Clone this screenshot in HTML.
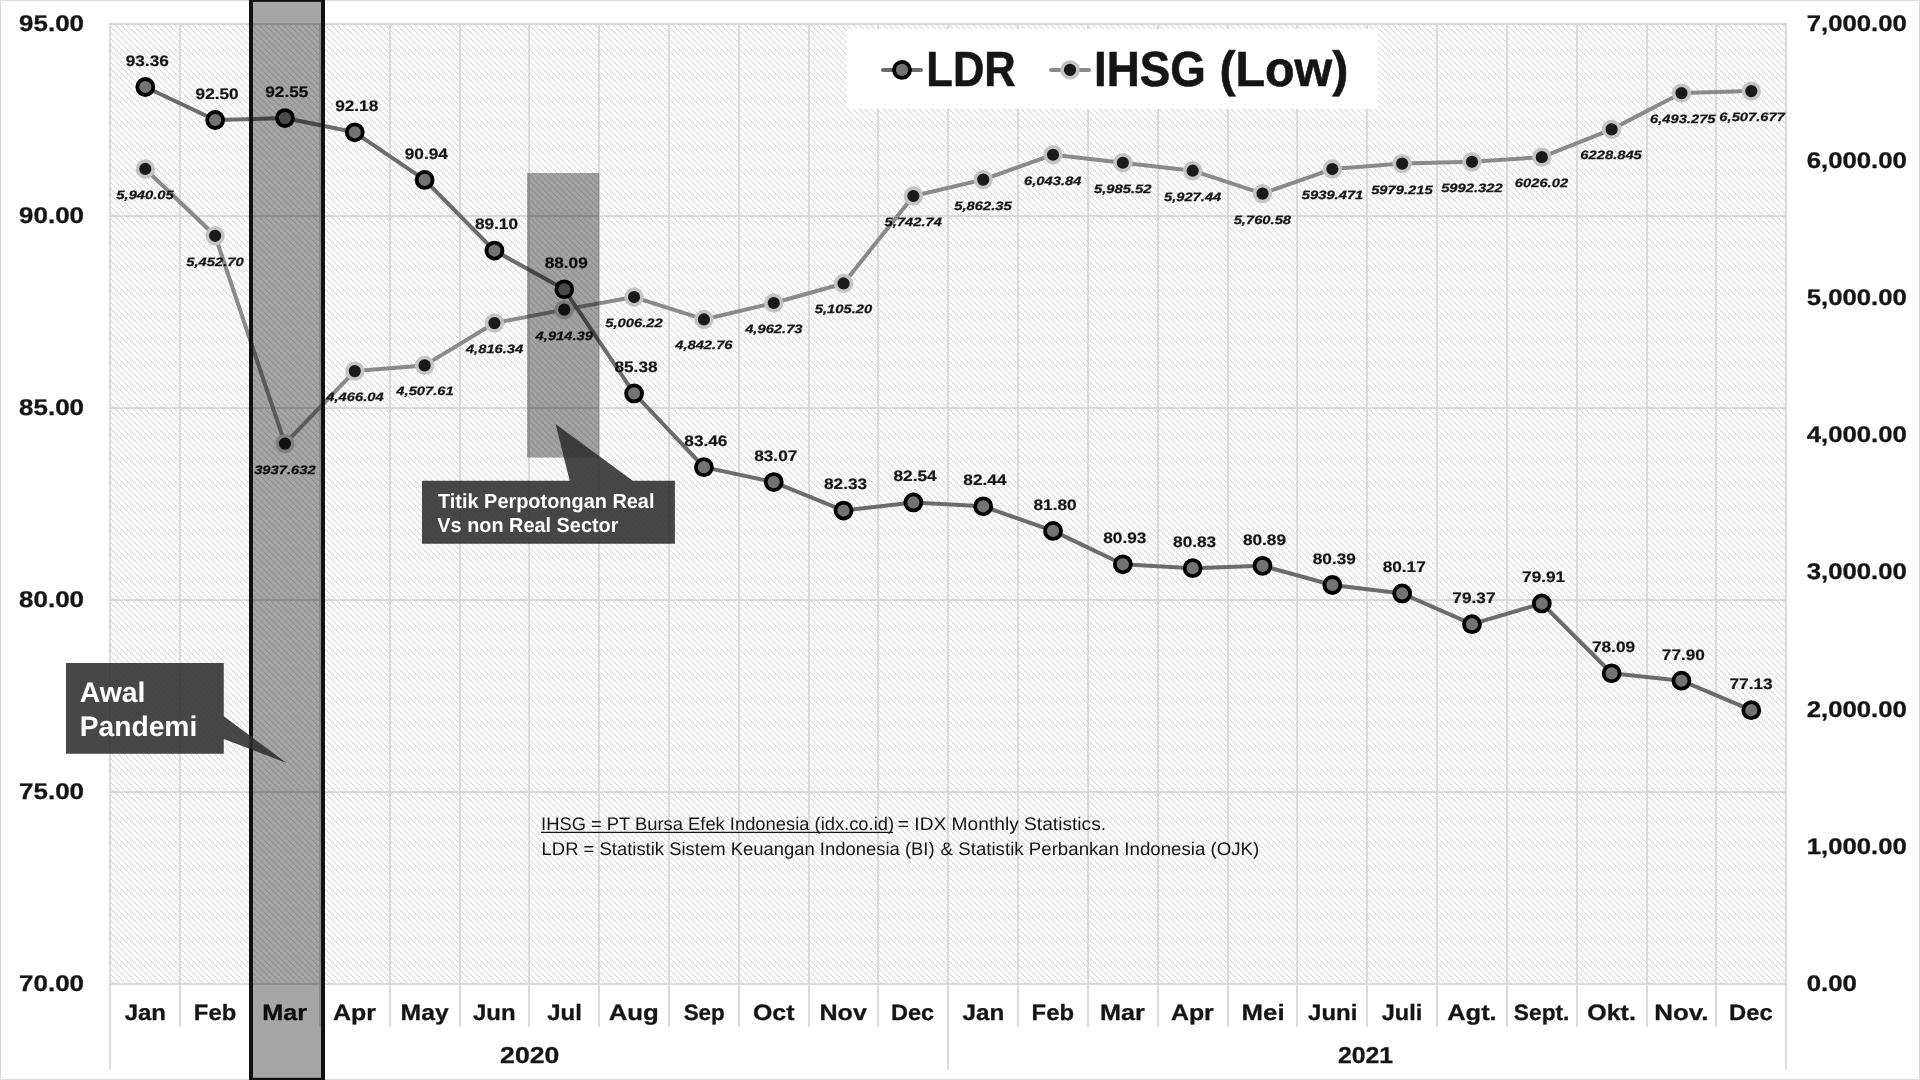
<!DOCTYPE html>
<html lang="en">
<head>
<meta charset="utf-8">
<title>LDR vs IHSG (Low) 2020-2021</title>
<style>
html,body{margin:0;padding:0;background:#fff;}
body{width:1920px;height:1080px;overflow:hidden;font-family:"Liberation Sans",sans-serif;}
svg{display:block;}
#wrap{width:1920px;height:1080px;will-change:transform;}
</style>
</head>
<body>
<div id="wrap">
<svg width="1920" height="1080" viewBox="0 0 1920 1080" font-family="'Liberation Sans', sans-serif" text-rendering="geometricPrecision">
<defs>
<pattern id="h" width="6" height="6" patternUnits="userSpaceOnUse" x="1.00" y="1.00">
<rect width="6" height="6" fill="#fff"/>
<path d="M0,0h1.5v1.5h-1.5z M1.5,1.5h1.5v1.5h-1.5z M3,3h1.5v1.5h-1.5z M4.5,4.5h1.5v1.5h-1.5z" fill="#d9d9d9"/>
</pattern>
</defs>
<rect x="0" y="0" width="1920" height="1080" fill="#fff"/>
<rect x="110.40" y="24.00" width="1675.80" height="960.00" fill="url(#h)"/>
<g fill="#d9d9d9">
<rect x="109.05" y="23.05" width="1677.90" height="1.90"/>
<rect x="109.05" y="215.05" width="1677.90" height="1.90"/>
<rect x="109.05" y="407.05" width="1677.90" height="1.90"/>
<rect x="109.05" y="599.05" width="1677.90" height="1.90"/>
<rect x="109.05" y="791.05" width="1677.90" height="1.90"/>
<rect x="109.05" y="983.05" width="1677.90" height="1.90"/>
<rect x="109.05" y="24.00" width="1.90" height="1045.50"/>
<rect x="179.05" y="24.00" width="1.90" height="1002.70"/>
<rect x="249.05" y="24.00" width="1.90" height="1002.70"/>
<rect x="319.05" y="24.00" width="1.90" height="1002.70"/>
<rect x="389.05" y="24.00" width="1.90" height="1002.70"/>
<rect x="459.05" y="24.00" width="1.90" height="1002.70"/>
<rect x="528.05" y="24.00" width="1.90" height="1002.70"/>
<rect x="598.05" y="24.00" width="1.90" height="1002.70"/>
<rect x="668.05" y="24.00" width="1.90" height="1002.70"/>
<rect x="738.05" y="24.00" width="1.90" height="1002.70"/>
<rect x="808.05" y="24.00" width="1.90" height="1002.70"/>
<rect x="877.05" y="24.00" width="1.90" height="1002.70"/>
<rect x="947.05" y="24.00" width="1.90" height="1045.50"/>
<rect x="1017.05" y="24.00" width="1.90" height="1002.70"/>
<rect x="1087.05" y="24.00" width="1.90" height="1002.70"/>
<rect x="1157.05" y="24.00" width="1.90" height="1002.70"/>
<rect x="1227.05" y="24.00" width="1.90" height="1002.70"/>
<rect x="1296.05" y="24.00" width="1.90" height="1002.70"/>
<rect x="1366.05" y="24.00" width="1.90" height="1002.70"/>
<rect x="1436.05" y="24.00" width="1.90" height="1002.70"/>
<rect x="1506.05" y="24.00" width="1.90" height="1002.70"/>
<rect x="1576.05" y="24.00" width="1.90" height="1002.70"/>
<rect x="1646.05" y="24.00" width="1.90" height="1002.70"/>
<rect x="1715.05" y="24.00" width="1.90" height="1002.70"/>
<rect x="1785.05" y="24.00" width="1.90" height="1045.50"/>
</g>
<text x="19.14" y="30.85" font-size="22.70" font-weight="bold" font-style="normal" fill="#151515" textLength="64.84" lengthAdjust="spacingAndGlyphs" stroke="#151515" stroke-width="0.30" stroke-linejoin="round">95.00</text>
<text x="19.14" y="222.85" font-size="22.70" font-weight="bold" font-style="normal" fill="#151515" textLength="64.84" lengthAdjust="spacingAndGlyphs" stroke="#151515" stroke-width="0.30" stroke-linejoin="round">90.00</text>
<text x="19.14" y="414.85" font-size="22.70" font-weight="bold" font-style="normal" fill="#151515" textLength="64.84" lengthAdjust="spacingAndGlyphs" stroke="#151515" stroke-width="0.30" stroke-linejoin="round">85.00</text>
<text x="19.14" y="606.85" font-size="22.70" font-weight="bold" font-style="normal" fill="#151515" textLength="64.84" lengthAdjust="spacingAndGlyphs" stroke="#151515" stroke-width="0.30" stroke-linejoin="round">80.00</text>
<text x="19.14" y="798.85" font-size="22.70" font-weight="bold" font-style="normal" fill="#151515" textLength="64.84" lengthAdjust="spacingAndGlyphs" stroke="#151515" stroke-width="0.30" stroke-linejoin="round">75.00</text>
<text x="19.14" y="990.85" font-size="22.70" font-weight="bold" font-style="normal" fill="#151515" textLength="64.84" lengthAdjust="spacingAndGlyphs" stroke="#151515" stroke-width="0.30" stroke-linejoin="round">70.00</text>
<text x="1806.66" y="30.85" font-size="22.70" font-weight="bold" font-style="normal" fill="#151515" textLength="100.23" lengthAdjust="spacingAndGlyphs" stroke="#151515" stroke-width="0.30" stroke-linejoin="round">7,000.00</text>
<text x="1806.66" y="167.99" font-size="22.70" font-weight="bold" font-style="normal" fill="#151515" textLength="100.23" lengthAdjust="spacingAndGlyphs" stroke="#151515" stroke-width="0.30" stroke-linejoin="round">6,000.00</text>
<text x="1806.66" y="305.14" font-size="22.70" font-weight="bold" font-style="normal" fill="#151515" textLength="100.23" lengthAdjust="spacingAndGlyphs" stroke="#151515" stroke-width="0.30" stroke-linejoin="round">5,000.00</text>
<text x="1806.66" y="442.28" font-size="22.70" font-weight="bold" font-style="normal" fill="#151515" textLength="100.23" lengthAdjust="spacingAndGlyphs" stroke="#151515" stroke-width="0.30" stroke-linejoin="round">4,000.00</text>
<text x="1806.66" y="579.42" font-size="22.70" font-weight="bold" font-style="normal" fill="#151515" textLength="100.23" lengthAdjust="spacingAndGlyphs" stroke="#151515" stroke-width="0.30" stroke-linejoin="round">3,000.00</text>
<text x="1806.66" y="716.56" font-size="22.70" font-weight="bold" font-style="normal" fill="#151515" textLength="100.23" lengthAdjust="spacingAndGlyphs" stroke="#151515" stroke-width="0.30" stroke-linejoin="round">2,000.00</text>
<text x="1806.66" y="853.71" font-size="22.70" font-weight="bold" font-style="normal" fill="#151515" textLength="100.23" lengthAdjust="spacingAndGlyphs" stroke="#151515" stroke-width="0.30" stroke-linejoin="round">1,000.00</text>
<text x="1806.72" y="990.85" font-size="22.70" font-weight="bold" font-style="normal" fill="#151515" textLength="50.20" lengthAdjust="spacingAndGlyphs" stroke="#151515" stroke-width="0.30" stroke-linejoin="round">0.00</text>
<text x="124.69" y="1019.60" font-size="22.20" font-weight="bold" font-style="normal" fill="#151515" textLength="41.32" lengthAdjust="spacingAndGlyphs" stroke="#151515" stroke-width="0.30" stroke-linejoin="round">Jan</text>
<text x="193.84" y="1019.60" font-size="22.20" font-weight="bold" font-style="normal" fill="#151515" textLength="42.37" lengthAdjust="spacingAndGlyphs" stroke="#151515" stroke-width="0.30" stroke-linejoin="round">Feb</text>
<text x="262.25" y="1019.60" font-size="22.20" font-weight="bold" font-style="normal" fill="#151515" textLength="44.84" lengthAdjust="spacingAndGlyphs" stroke="#151515" stroke-width="0.30" stroke-linejoin="round">Mar</text>
<text x="333.13" y="1019.60" font-size="22.20" font-weight="bold" font-style="normal" fill="#151515" textLength="42.89" lengthAdjust="spacingAndGlyphs" stroke="#151515" stroke-width="0.30" stroke-linejoin="round">Apr</text>
<text x="400.58" y="1019.60" font-size="22.20" font-weight="bold" font-style="normal" fill="#151515" textLength="48.10" lengthAdjust="spacingAndGlyphs" stroke="#151515" stroke-width="0.30" stroke-linejoin="round">May</text>
<text x="472.99" y="1019.60" font-size="22.20" font-weight="bold" font-style="normal" fill="#151515" textLength="42.61" lengthAdjust="spacingAndGlyphs" stroke="#151515" stroke-width="0.30" stroke-linejoin="round">Jun</text>
<text x="547.29" y="1019.60" font-size="22.20" font-weight="bold" font-style="normal" fill="#151515" textLength="34.53" lengthAdjust="spacingAndGlyphs" stroke="#151515" stroke-width="0.30" stroke-linejoin="round">Jul</text>
<text x="608.70" y="1019.60" font-size="22.20" font-weight="bold" font-style="normal" fill="#151515" textLength="50.16" lengthAdjust="spacingAndGlyphs" stroke="#151515" stroke-width="0.30" stroke-linejoin="round">Aug</text>
<text x="683.68" y="1019.60" font-size="22.20" font-weight="bold" font-style="normal" fill="#151515" textLength="41.10" lengthAdjust="spacingAndGlyphs" stroke="#151515" stroke-width="0.30" stroke-linejoin="round">Sep</text>
<text x="752.95" y="1019.60" font-size="22.20" font-weight="bold" font-style="normal" fill="#151515" textLength="41.50" lengthAdjust="spacingAndGlyphs" stroke="#151515" stroke-width="0.30" stroke-linejoin="round">Oct</text>
<text x="819.46" y="1019.60" font-size="22.20" font-weight="bold" font-style="normal" fill="#151515" textLength="47.40" lengthAdjust="spacingAndGlyphs" stroke="#151515" stroke-width="0.30" stroke-linejoin="round">Nov</text>
<text x="891.06" y="1019.60" font-size="22.20" font-weight="bold" font-style="normal" fill="#151515" textLength="43.08" lengthAdjust="spacingAndGlyphs" stroke="#151515" stroke-width="0.30" stroke-linejoin="round">Dec</text>
<text x="962.49" y="1019.60" font-size="22.20" font-weight="bold" font-style="normal" fill="#151515" textLength="41.73" lengthAdjust="spacingAndGlyphs" stroke="#151515" stroke-width="0.30" stroke-linejoin="round">Jan</text>
<text x="1031.64" y="1019.60" font-size="22.20" font-weight="bold" font-style="normal" fill="#151515" textLength="42.37" lengthAdjust="spacingAndGlyphs" stroke="#151515" stroke-width="0.30" stroke-linejoin="round">Feb</text>
<text x="1100.05" y="1019.60" font-size="22.20" font-weight="bold" font-style="normal" fill="#151515" textLength="44.84" lengthAdjust="spacingAndGlyphs" stroke="#151515" stroke-width="0.30" stroke-linejoin="round">Mar</text>
<text x="1170.93" y="1019.60" font-size="22.20" font-weight="bold" font-style="normal" fill="#151515" textLength="42.89" lengthAdjust="spacingAndGlyphs" stroke="#151515" stroke-width="0.30" stroke-linejoin="round">Apr</text>
<text x="1241.61" y="1019.60" font-size="22.20" font-weight="bold" font-style="normal" fill="#151515" textLength="43.04" lengthAdjust="spacingAndGlyphs" stroke="#151515" stroke-width="0.30" stroke-linejoin="round">Mei</text>
<text x="1308.09" y="1019.60" font-size="22.20" font-weight="bold" font-style="normal" fill="#151515" textLength="49.25" lengthAdjust="spacingAndGlyphs" stroke="#151515" stroke-width="0.30" stroke-linejoin="round">Juni</text>
<text x="1381.80" y="1019.60" font-size="22.20" font-weight="bold" font-style="normal" fill="#151515" textLength="40.50" lengthAdjust="spacingAndGlyphs" stroke="#151515" stroke-width="0.30" stroke-linejoin="round">Juli</text>
<text x="1447.21" y="1019.60" font-size="22.20" font-weight="bold" font-style="normal" fill="#151515" textLength="49.49" lengthAdjust="spacingAndGlyphs" stroke="#151515" stroke-width="0.30" stroke-linejoin="round">Agt.</text>
<text x="1513.87" y="1019.60" font-size="22.20" font-weight="bold" font-style="normal" fill="#151515" textLength="55.51" lengthAdjust="spacingAndGlyphs" stroke="#151515" stroke-width="0.30" stroke-linejoin="round">Sept.</text>
<text x="1587.25" y="1019.60" font-size="22.20" font-weight="bold" font-style="normal" fill="#151515" textLength="48.58" lengthAdjust="spacingAndGlyphs" stroke="#151515" stroke-width="0.30" stroke-linejoin="round">Okt.</text>
<text x="1654.30" y="1019.60" font-size="22.20" font-weight="bold" font-style="normal" fill="#151515" textLength="54.21" lengthAdjust="spacingAndGlyphs" stroke="#151515" stroke-width="0.30" stroke-linejoin="round">Nov.</text>
<text x="1729.05" y="1019.60" font-size="22.20" font-weight="bold" font-style="normal" fill="#151515" textLength="43.61" lengthAdjust="spacingAndGlyphs" stroke="#151515" stroke-width="0.30" stroke-linejoin="round">Dec</text>
<text x="500.12" y="1063.00" font-size="23.00" font-weight="bold" font-style="normal" fill="#151515" textLength="59.10" lengthAdjust="spacingAndGlyphs" stroke="#151515" stroke-width="0.30" stroke-linejoin="round">2020</text>
<text x="1338.03" y="1063.00" font-size="23.00" font-weight="bold" font-style="normal" fill="#151515" textLength="55.15" lengthAdjust="spacingAndGlyphs" stroke="#151515" stroke-width="0.30" stroke-linejoin="round">2021</text>
<rect x="847.00" y="29.00" width="531.00" height="80.00" fill="#fff"/>
<line x1="883" y1="69.90" x2="921" y2="69.90" stroke="#6b6b6b" stroke-width="4" stroke-linecap="round"/>
<circle cx="902" cy="69.90" r="8.00" fill="#737373" stroke="#000" stroke-width="3.80"/>
<line x1="1051" y1="69.90" x2="1089" y2="69.90" stroke="#8a8a8a" stroke-width="4" stroke-linecap="round"/>
<circle cx="1070" cy="69.90" r="7.90" fill="#1a1a1a" stroke="#c4c4c4" stroke-width="3.60"/>
<text x="926.37" y="85.50" font-size="49.50" font-weight="bold" font-style="normal" fill="#151515" textLength="89.32" lengthAdjust="spacingAndGlyphs" stroke="#151515" stroke-width="0.60" stroke-linejoin="round">LDR</text>
<text x="1093.96" y="85.50" font-size="49.50" font-weight="bold" font-style="normal" fill="#151515" textLength="111.79" lengthAdjust="spacingAndGlyphs" stroke="#151515" stroke-width="0.60" stroke-linejoin="round">IHSG</text>
<text x="1219.38" y="85.50" font-size="49.50" font-weight="bold" font-style="normal" fill="#151515" textLength="128.97" lengthAdjust="spacingAndGlyphs" stroke="#151515" stroke-width="0.60" stroke-linejoin="round">(Low)</text>
<text x="541.05" y="829.75" font-size="18.20" font-weight="normal" font-style="normal" fill="#151515" textLength="353.01" lengthAdjust="spacingAndGlyphs">IHSG = PT Bursa Efek Indonesia (idx.co.id)</text>
<text x="897.79" y="829.75" font-size="18.20" font-weight="normal" font-style="normal" fill="#151515" textLength="208.34" lengthAdjust="spacingAndGlyphs">= IDX Monthly Statistics.</text>
<line x1="541" y1="832.30" x2="893.1" y2="832.30" stroke="#151515" stroke-width="1.2"/>
<text x="541.58" y="854.75" font-size="18.20" font-weight="normal" font-style="normal" fill="#151515" textLength="393.07" lengthAdjust="spacingAndGlyphs">LDR = Statistik Sistem Keuangan Indonesia (BI)</text>
<text x="940.60" y="854.75" font-size="18.20" font-weight="normal" font-style="normal" fill="#151515" textLength="318.66" lengthAdjust="spacingAndGlyphs">&amp; Statistik Perbankan Indonesia (OJK)</text>
<polyline points="145.31,168.96 215.14,235.80 284.96,443.58 354.79,371.11 424.61,365.41 494.44,323.07 564.26,309.63 634.09,297.03 703.91,319.45 773.74,303.00 843.56,283.46 913.39,196.02 983.21,179.62 1053.04,154.73 1122.86,162.73 1192.69,170.69 1262.51,193.58 1332.34,169.04 1402.16,163.59 1471.99,161.80 1541.81,157.17 1611.64,129.36 1681.46,93.09 1751.29,91.12" fill="none" stroke="#8a8a8a" stroke-width="4.00" stroke-linejoin="round" stroke-linecap="round"/>
<circle cx="145.31" cy="168.96" r="7.90" fill="#1a1a1a" stroke="#c4c4c4" stroke-width="3.60"/>
<circle cx="215.14" cy="235.80" r="7.90" fill="#1a1a1a" stroke="#c4c4c4" stroke-width="3.60"/>
<circle cx="284.96" cy="443.58" r="7.90" fill="#1a1a1a" stroke="#c4c4c4" stroke-width="3.60"/>
<circle cx="354.79" cy="371.11" r="7.90" fill="#1a1a1a" stroke="#c4c4c4" stroke-width="3.60"/>
<circle cx="424.61" cy="365.41" r="7.90" fill="#1a1a1a" stroke="#c4c4c4" stroke-width="3.60"/>
<circle cx="494.44" cy="323.07" r="7.90" fill="#1a1a1a" stroke="#c4c4c4" stroke-width="3.60"/>
<circle cx="564.26" cy="309.63" r="7.90" fill="#1a1a1a" stroke="#c4c4c4" stroke-width="3.60"/>
<circle cx="634.09" cy="297.03" r="7.90" fill="#1a1a1a" stroke="#c4c4c4" stroke-width="3.60"/>
<circle cx="703.91" cy="319.45" r="7.90" fill="#1a1a1a" stroke="#c4c4c4" stroke-width="3.60"/>
<circle cx="773.74" cy="303.00" r="7.90" fill="#1a1a1a" stroke="#c4c4c4" stroke-width="3.60"/>
<circle cx="843.56" cy="283.46" r="7.90" fill="#1a1a1a" stroke="#c4c4c4" stroke-width="3.60"/>
<circle cx="913.39" cy="196.02" r="7.90" fill="#1a1a1a" stroke="#c4c4c4" stroke-width="3.60"/>
<circle cx="983.21" cy="179.62" r="7.90" fill="#1a1a1a" stroke="#c4c4c4" stroke-width="3.60"/>
<circle cx="1053.04" cy="154.73" r="7.90" fill="#1a1a1a" stroke="#c4c4c4" stroke-width="3.60"/>
<circle cx="1122.86" cy="162.73" r="7.90" fill="#1a1a1a" stroke="#c4c4c4" stroke-width="3.60"/>
<circle cx="1192.69" cy="170.69" r="7.90" fill="#1a1a1a" stroke="#c4c4c4" stroke-width="3.60"/>
<circle cx="1262.51" cy="193.58" r="7.90" fill="#1a1a1a" stroke="#c4c4c4" stroke-width="3.60"/>
<circle cx="1332.34" cy="169.04" r="7.90" fill="#1a1a1a" stroke="#c4c4c4" stroke-width="3.60"/>
<circle cx="1402.16" cy="163.59" r="7.90" fill="#1a1a1a" stroke="#c4c4c4" stroke-width="3.60"/>
<circle cx="1471.99" cy="161.80" r="7.90" fill="#1a1a1a" stroke="#c4c4c4" stroke-width="3.60"/>
<circle cx="1541.81" cy="157.17" r="7.90" fill="#1a1a1a" stroke="#c4c4c4" stroke-width="3.60"/>
<circle cx="1611.64" cy="129.36" r="7.90" fill="#1a1a1a" stroke="#c4c4c4" stroke-width="3.60"/>
<circle cx="1681.46" cy="93.09" r="7.90" fill="#1a1a1a" stroke="#c4c4c4" stroke-width="3.60"/>
<circle cx="1751.29" cy="91.12" r="7.90" fill="#1a1a1a" stroke="#c4c4c4" stroke-width="3.60"/>
<polyline points="145.31,86.98 215.14,120.00 284.96,118.08 354.79,132.29 424.61,179.90 494.44,250.56 564.26,289.34 634.09,393.41 703.91,467.14 773.74,482.11 843.56,510.53 913.39,502.46 983.21,506.30 1053.04,530.88 1122.86,564.29 1192.69,568.13 1262.51,565.82 1332.34,585.02 1402.16,593.47 1471.99,624.19 1541.81,603.46 1611.64,673.34 1681.46,680.64 1751.29,710.21" fill="none" stroke="#6b6b6b" stroke-width="4.00" stroke-linejoin="round" stroke-linecap="round"/>
<circle cx="145.31" cy="86.98" r="8.00" fill="#737373" stroke="#000" stroke-width="3.80"/>
<circle cx="215.14" cy="120.00" r="8.00" fill="#737373" stroke="#000" stroke-width="3.80"/>
<circle cx="284.96" cy="118.08" r="8.00" fill="#737373" stroke="#000" stroke-width="3.80"/>
<circle cx="354.79" cy="132.29" r="8.00" fill="#737373" stroke="#000" stroke-width="3.80"/>
<circle cx="424.61" cy="179.90" r="8.00" fill="#737373" stroke="#000" stroke-width="3.80"/>
<circle cx="494.44" cy="250.56" r="8.00" fill="#737373" stroke="#000" stroke-width="3.80"/>
<circle cx="564.26" cy="289.34" r="8.00" fill="#737373" stroke="#000" stroke-width="3.80"/>
<circle cx="634.09" cy="393.41" r="8.00" fill="#737373" stroke="#000" stroke-width="3.80"/>
<circle cx="703.91" cy="467.14" r="8.00" fill="#737373" stroke="#000" stroke-width="3.80"/>
<circle cx="773.74" cy="482.11" r="8.00" fill="#737373" stroke="#000" stroke-width="3.80"/>
<circle cx="843.56" cy="510.53" r="8.00" fill="#737373" stroke="#000" stroke-width="3.80"/>
<circle cx="913.39" cy="502.46" r="8.00" fill="#737373" stroke="#000" stroke-width="3.80"/>
<circle cx="983.21" cy="506.30" r="8.00" fill="#737373" stroke="#000" stroke-width="3.80"/>
<circle cx="1053.04" cy="530.88" r="8.00" fill="#737373" stroke="#000" stroke-width="3.80"/>
<circle cx="1122.86" cy="564.29" r="8.00" fill="#737373" stroke="#000" stroke-width="3.80"/>
<circle cx="1192.69" cy="568.13" r="8.00" fill="#737373" stroke="#000" stroke-width="3.80"/>
<circle cx="1262.51" cy="565.82" r="8.00" fill="#737373" stroke="#000" stroke-width="3.80"/>
<circle cx="1332.34" cy="585.02" r="8.00" fill="#737373" stroke="#000" stroke-width="3.80"/>
<circle cx="1402.16" cy="593.47" r="8.00" fill="#737373" stroke="#000" stroke-width="3.80"/>
<circle cx="1471.99" cy="624.19" r="8.00" fill="#737373" stroke="#000" stroke-width="3.80"/>
<circle cx="1541.81" cy="603.46" r="8.00" fill="#737373" stroke="#000" stroke-width="3.80"/>
<circle cx="1611.64" cy="673.34" r="8.00" fill="#737373" stroke="#000" stroke-width="3.80"/>
<circle cx="1681.46" cy="680.64" r="8.00" fill="#737373" stroke="#000" stroke-width="3.80"/>
<circle cx="1751.29" cy="710.21" r="8.00" fill="#737373" stroke="#000" stroke-width="3.80"/>
<text x="116.37" y="198.96" font-size="12.10" font-weight="bold" font-style="italic" fill="#151515" textLength="57.37" lengthAdjust="spacingAndGlyphs" stroke="#151515" stroke-width="0.25" stroke-linejoin="round">5,940.05</text>
<text x="186.34" y="265.80" font-size="12.10" font-weight="bold" font-style="italic" fill="#151515" textLength="57.37" lengthAdjust="spacingAndGlyphs" stroke="#151515" stroke-width="0.25" stroke-linejoin="round">5,452.70</text>
<text x="254.15" y="473.58" font-size="12.10" font-weight="bold" font-style="italic" fill="#151515" textLength="61.47" lengthAdjust="spacingAndGlyphs" stroke="#151515" stroke-width="0.25" stroke-linejoin="round">3937.632</text>
<text x="326.25" y="401.11" font-size="12.10" font-weight="bold" font-style="italic" fill="#151515" textLength="57.37" lengthAdjust="spacingAndGlyphs" stroke="#151515" stroke-width="0.25" stroke-linejoin="round">4,466.04</text>
<text x="396.35" y="395.41" font-size="12.10" font-weight="bold" font-style="italic" fill="#151515" textLength="57.37" lengthAdjust="spacingAndGlyphs" stroke="#151515" stroke-width="0.25" stroke-linejoin="round">4,507.61</text>
<text x="465.90" y="353.07" font-size="12.10" font-weight="bold" font-style="italic" fill="#151515" textLength="57.37" lengthAdjust="spacingAndGlyphs" stroke="#151515" stroke-width="0.25" stroke-linejoin="round">4,816.34</text>
<text x="535.63" y="339.63" font-size="12.10" font-weight="bold" font-style="italic" fill="#151515" textLength="57.37" lengthAdjust="spacingAndGlyphs" stroke="#151515" stroke-width="0.25" stroke-linejoin="round">4,914.39</text>
<text x="605.31" y="327.03" font-size="12.10" font-weight="bold" font-style="italic" fill="#151515" textLength="57.37" lengthAdjust="spacingAndGlyphs" stroke="#151515" stroke-width="0.25" stroke-linejoin="round">5,006.22</text>
<text x="675.20" y="349.45" font-size="12.10" font-weight="bold" font-style="italic" fill="#151515" textLength="57.37" lengthAdjust="spacingAndGlyphs" stroke="#151515" stroke-width="0.25" stroke-linejoin="round">4,842.76</text>
<text x="745.16" y="333.00" font-size="12.10" font-weight="bold" font-style="italic" fill="#151515" textLength="57.37" lengthAdjust="spacingAndGlyphs" stroke="#151515" stroke-width="0.25" stroke-linejoin="round">4,962.73</text>
<text x="814.76" y="313.46" font-size="12.10" font-weight="bold" font-style="italic" fill="#151515" textLength="57.37" lengthAdjust="spacingAndGlyphs" stroke="#151515" stroke-width="0.25" stroke-linejoin="round">5,105.20</text>
<text x="884.64" y="226.02" font-size="12.10" font-weight="bold" font-style="italic" fill="#151515" textLength="57.37" lengthAdjust="spacingAndGlyphs" stroke="#151515" stroke-width="0.25" stroke-linejoin="round">5,742.74</text>
<text x="954.27" y="209.62" font-size="12.10" font-weight="bold" font-style="italic" fill="#151515" textLength="57.37" lengthAdjust="spacingAndGlyphs" stroke="#151515" stroke-width="0.25" stroke-linejoin="round">5,862.35</text>
<text x="1024.02" y="184.73" font-size="12.10" font-weight="bold" font-style="italic" fill="#151515" textLength="57.37" lengthAdjust="spacingAndGlyphs" stroke="#151515" stroke-width="0.25" stroke-linejoin="round">6,043.84</text>
<text x="1094.08" y="192.73" font-size="12.10" font-weight="bold" font-style="italic" fill="#151515" textLength="57.37" lengthAdjust="spacingAndGlyphs" stroke="#151515" stroke-width="0.25" stroke-linejoin="round">5,985.52</text>
<text x="1163.94" y="200.69" font-size="12.10" font-weight="bold" font-style="italic" fill="#151515" textLength="57.37" lengthAdjust="spacingAndGlyphs" stroke="#151515" stroke-width="0.25" stroke-linejoin="round">5,927.44</text>
<text x="1233.66" y="223.58" font-size="12.10" font-weight="bold" font-style="italic" fill="#151515" textLength="57.37" lengthAdjust="spacingAndGlyphs" stroke="#151515" stroke-width="0.25" stroke-linejoin="round">5,760.58</text>
<text x="1301.82" y="199.04" font-size="12.10" font-weight="bold" font-style="italic" fill="#151515" textLength="61.47" lengthAdjust="spacingAndGlyphs" stroke="#151515" stroke-width="0.25" stroke-linejoin="round">5939.471</text>
<text x="1371.17" y="193.59" font-size="12.10" font-weight="bold" font-style="italic" fill="#151515" textLength="61.47" lengthAdjust="spacingAndGlyphs" stroke="#151515" stroke-width="0.25" stroke-linejoin="round">5979.215</text>
<text x="1441.16" y="191.80" font-size="12.10" font-weight="bold" font-style="italic" fill="#151515" textLength="61.47" lengthAdjust="spacingAndGlyphs" stroke="#151515" stroke-width="0.25" stroke-linejoin="round">5992.322</text>
<text x="1514.82" y="187.17" font-size="12.10" font-weight="bold" font-style="italic" fill="#151515" textLength="53.27" lengthAdjust="spacingAndGlyphs" stroke="#151515" stroke-width="0.25" stroke-linejoin="round">6026.02</text>
<text x="1580.37" y="159.36" font-size="12.10" font-weight="bold" font-style="italic" fill="#151515" textLength="61.47" lengthAdjust="spacingAndGlyphs" stroke="#151515" stroke-width="0.25" stroke-linejoin="round">6228.845</text>
<text x="1650.00" y="123.09" font-size="12.10" font-weight="bold" font-style="italic" fill="#151515" textLength="65.56" lengthAdjust="spacingAndGlyphs" stroke="#151515" stroke-width="0.25" stroke-linejoin="round">6,493.275</text>
<text x="1719.37" y="121.12" font-size="12.10" font-weight="bold" font-style="italic" fill="#151515" textLength="65.56" lengthAdjust="spacingAndGlyphs" stroke="#151515" stroke-width="0.25" stroke-linejoin="round">6,507.677</text>
<text x="125.72" y="65.88" font-size="15.20" font-weight="bold" font-style="normal" fill="#151515" textLength="43.09" lengthAdjust="spacingAndGlyphs" stroke="#151515" stroke-width="0.20" stroke-linejoin="round">93.36</text>
<text x="195.58" y="98.90" font-size="15.20" font-weight="bold" font-style="normal" fill="#151515" textLength="43.09" lengthAdjust="spacingAndGlyphs" stroke="#151515" stroke-width="0.20" stroke-linejoin="round">92.50</text>
<text x="265.30" y="96.98" font-size="15.20" font-weight="bold" font-style="normal" fill="#151515" textLength="43.09" lengthAdjust="spacingAndGlyphs" stroke="#151515" stroke-width="0.20" stroke-linejoin="round">92.55</text>
<text x="335.15" y="111.19" font-size="15.20" font-weight="bold" font-style="normal" fill="#151515" textLength="43.09" lengthAdjust="spacingAndGlyphs" stroke="#151515" stroke-width="0.20" stroke-linejoin="round">92.18</text>
<text x="404.76" y="158.80" font-size="15.20" font-weight="bold" font-style="normal" fill="#151515" textLength="43.09" lengthAdjust="spacingAndGlyphs" stroke="#151515" stroke-width="0.20" stroke-linejoin="round">90.94</text>
<text x="474.91" y="229.46" font-size="15.20" font-weight="bold" font-style="normal" fill="#151515" textLength="43.09" lengthAdjust="spacingAndGlyphs" stroke="#151515" stroke-width="0.20" stroke-linejoin="round">89.10</text>
<text x="544.69" y="268.24" font-size="15.20" font-weight="bold" font-style="normal" fill="#151515" textLength="43.09" lengthAdjust="spacingAndGlyphs" stroke="#151515" stroke-width="0.20" stroke-linejoin="round">88.09</text>
<text x="614.47" y="372.31" font-size="15.20" font-weight="bold" font-style="normal" fill="#151515" textLength="43.09" lengthAdjust="spacingAndGlyphs" stroke="#151515" stroke-width="0.20" stroke-linejoin="round">85.38</text>
<text x="684.34" y="446.04" font-size="15.20" font-weight="bold" font-style="normal" fill="#151515" textLength="43.09" lengthAdjust="spacingAndGlyphs" stroke="#151515" stroke-width="0.20" stroke-linejoin="round">83.46</text>
<text x="754.23" y="461.01" font-size="15.20" font-weight="bold" font-style="normal" fill="#151515" textLength="43.09" lengthAdjust="spacingAndGlyphs" stroke="#151515" stroke-width="0.20" stroke-linejoin="round">83.07</text>
<text x="823.99" y="489.43" font-size="15.20" font-weight="bold" font-style="normal" fill="#151515" textLength="43.09" lengthAdjust="spacingAndGlyphs" stroke="#151515" stroke-width="0.20" stroke-linejoin="round">82.33</text>
<text x="893.56" y="481.36" font-size="15.20" font-weight="bold" font-style="normal" fill="#151515" textLength="43.09" lengthAdjust="spacingAndGlyphs" stroke="#151515" stroke-width="0.20" stroke-linejoin="round">82.54</text>
<text x="963.38" y="485.20" font-size="15.20" font-weight="bold" font-style="normal" fill="#151515" textLength="43.09" lengthAdjust="spacingAndGlyphs" stroke="#151515" stroke-width="0.20" stroke-linejoin="round">82.44</text>
<text x="1033.51" y="509.78" font-size="15.20" font-weight="bold" font-style="normal" fill="#151515" textLength="43.09" lengthAdjust="spacingAndGlyphs" stroke="#151515" stroke-width="0.20" stroke-linejoin="round">81.80</text>
<text x="1103.29" y="543.19" font-size="15.20" font-weight="bold" font-style="normal" fill="#151515" textLength="43.09" lengthAdjust="spacingAndGlyphs" stroke="#151515" stroke-width="0.20" stroke-linejoin="round">80.93</text>
<text x="1173.11" y="547.03" font-size="15.20" font-weight="bold" font-style="normal" fill="#151515" textLength="43.09" lengthAdjust="spacingAndGlyphs" stroke="#151515" stroke-width="0.20" stroke-linejoin="round">80.83</text>
<text x="1242.94" y="544.72" font-size="15.20" font-weight="bold" font-style="normal" fill="#151515" textLength="43.09" lengthAdjust="spacingAndGlyphs" stroke="#151515" stroke-width="0.20" stroke-linejoin="round">80.89</text>
<text x="1312.76" y="563.92" font-size="15.20" font-weight="bold" font-style="normal" fill="#151515" textLength="43.09" lengthAdjust="spacingAndGlyphs" stroke="#151515" stroke-width="0.20" stroke-linejoin="round">80.39</text>
<text x="1382.65" y="572.37" font-size="15.20" font-weight="bold" font-style="normal" fill="#151515" textLength="43.09" lengthAdjust="spacingAndGlyphs" stroke="#151515" stroke-width="0.20" stroke-linejoin="round">80.17</text>
<text x="1452.39" y="603.09" font-size="15.20" font-weight="bold" font-style="normal" fill="#151515" textLength="43.09" lengthAdjust="spacingAndGlyphs" stroke="#151515" stroke-width="0.20" stroke-linejoin="round">79.37</text>
<text x="1522.09" y="582.36" font-size="15.20" font-weight="bold" font-style="normal" fill="#151515" textLength="43.09" lengthAdjust="spacingAndGlyphs" stroke="#151515" stroke-width="0.20" stroke-linejoin="round">79.91</text>
<text x="1591.98" y="652.24" font-size="15.20" font-weight="bold" font-style="normal" fill="#151515" textLength="43.09" lengthAdjust="spacingAndGlyphs" stroke="#151515" stroke-width="0.20" stroke-linejoin="round">78.09</text>
<text x="1661.85" y="659.54" font-size="15.20" font-weight="bold" font-style="normal" fill="#151515" textLength="43.09" lengthAdjust="spacingAndGlyphs" stroke="#151515" stroke-width="0.20" stroke-linejoin="round">77.90</text>
<text x="1729.53" y="689.11" font-size="15.20" font-weight="bold" font-style="normal" fill="#151515" textLength="43.09" lengthAdjust="spacingAndGlyphs" stroke="#151515" stroke-width="0.20" stroke-linejoin="round">77.13</text>
<rect x="0.5" y="0.5" width="1919" height="1079" fill="none" stroke="#d9d9d9" stroke-width="1"/>
<rect x="527.1" y="173" width="72.1" height="284.6" fill="rgba(0,0,0,0.36)"/>
<rect x="251" y="-0.1" width="72" height="1079.9" fill="rgba(0,0,0,0.35)" stroke="#111" stroke-width="4"/>
<path d="M66,663.1 H223.75 V716.25 L286.6,763.1 L223.75,739 V753.75 H66 Z" fill="rgba(48,48,48,0.89)"/>
<text x="79.69" y="701.90" font-size="28.30" font-weight="bold" font-style="normal" fill="#fff" textLength="65.83" lengthAdjust="spacingAndGlyphs">Awal</text>
<text x="79.70" y="736.00" font-size="28.30" font-weight="bold" font-style="normal" fill="#fff" textLength="117.60" lengthAdjust="spacingAndGlyphs">Pandemi</text>
<path d="M422,480.8 H569.7 L555.6,424.1 L632.7,480.8 H674.9 V543.7 H422 Z" fill="rgba(48,48,48,0.89)"/>
<text x="438.00" y="507.80" font-size="20.40" font-weight="bold" font-style="normal" fill="#fff" textLength="216.49" lengthAdjust="spacingAndGlyphs">Titik Perpotongan Real</text>
<text x="437.35" y="531.70" font-size="20.40" font-weight="bold" font-style="normal" fill="#fff" textLength="181.13" lengthAdjust="spacingAndGlyphs">Vs non Real Sector</text>
</svg>
</div>
</body>
</html>
